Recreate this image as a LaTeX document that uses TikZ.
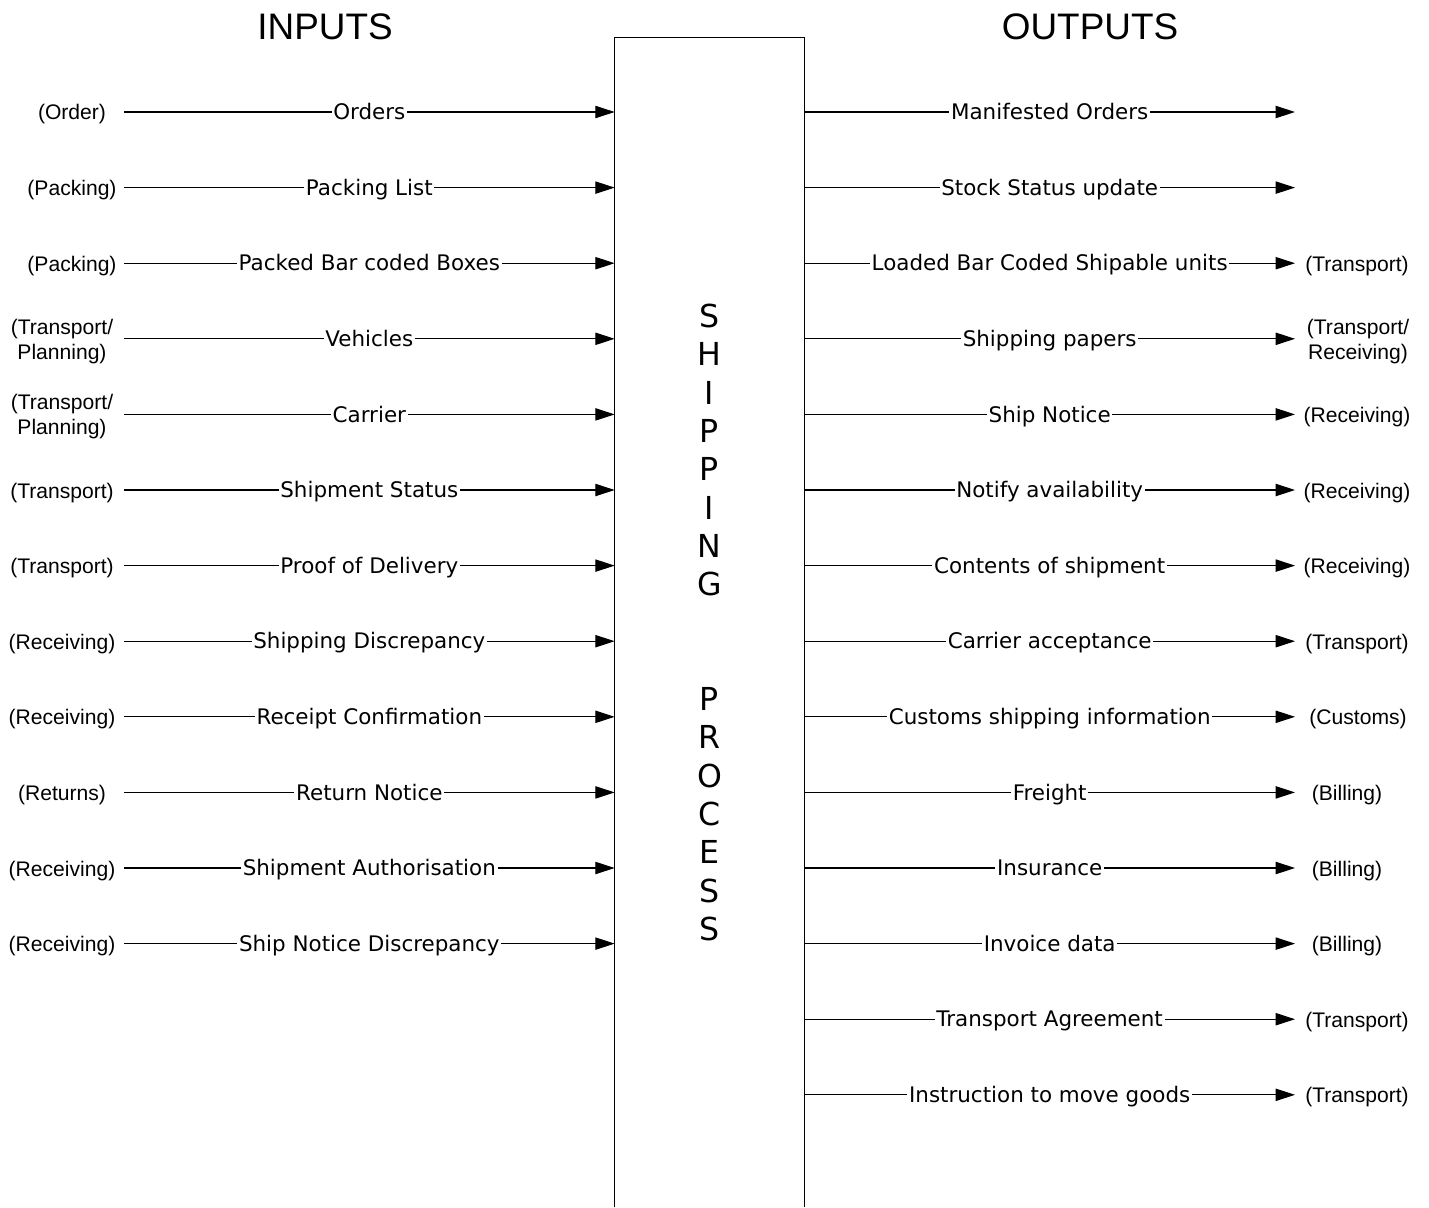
\documentclass[tikz,border=0pt]{standalone}
\usepackage{fontspec}
\setmainfont{Liberation Sans}
\newfontfamily\verd{DejaVu Sans}
\usetikzlibrary{arrows.meta}
\newcommand{\fsl}{/}
\newcommand{\two}[2]{\strut#1\\\strut#2}

\tikzset{
  flow/.style={line width=0.6pt, -{Triangle[length=11pt,width=7pt]}},
  lbl/.style={fill=white, inner sep=1pt, text height=10pt, text depth=1.2pt,
    font=\verd\fontsize{12.2}{14}\selectfont},
  src/.style={align=center, inner sep=0pt, yshift=-3*0.02cm, font=\fontsize{12}{14.2}\selectfont},
  ttl/.style={font=\fontsize{21}{24}\selectfont},
}

\begin{document}
\begin{tikzpicture}[x=0.02cm, y=-0.02cm]
  \useasboundingbox (0,0) rectangle (1429,1207);

  %titles
  \node[ttl] (tin) at (325,27) {INPUTS};
  \node[ttl] (tout) at (1090,27) {OUTPUTS};

  %process box, open at the bottom
  \node[minimum width=3.78cm, minimum height=23.38cm, inner sep=0pt] (box) at (709.5,622.5) {};
  \draw[line width=0.8pt] (box.south west) -- (box.north west) -- (box.north east) -- (box.south east);
  \node[align=center, font=\verd\fontsize{18}{21.8}\selectfont] (word) at (box.center)
    {S\\H\\I\\P\\P\\I\\N\\G\\[43.6pt]P\\R\\O\\C\\E\\S\\S};

  %inputs
  \foreach \i/\x/\s/\t in {
    1/72/(Order)/Orders,
    2/72/(Packing)/Packing List,
    3/72/(Packing)/Packed Bar coded Boxes,
    4/62/\two{(Transport\fsl}{Planning)}/Vehicles,
    5/62/\two{(Transport\fsl}{Planning)}/Carrier,
    6/62/(Transport)/Shipment Status,
    7/62/(Transport)/Proof of Delivery,
    8/62/(Receiving)/Shipping Discrepancy,
    9/62/(Receiving)/Receipt Confirmation,
    10/62/(Returns)/Return Notice,
    11/62/(Receiving)/Shipment Authorisation,
    12/62/(Receiving)/Ship Notice Discrepancy} {
    \pgfmathsetmacro\y{112+75.6*(\i-1)}
    \node[src] (src\i) at (\x,\y) {\strut\s};
    \coordinate (in\i) at (124,\y);
    \draw[flow] (in\i) -- node[lbl] (inl\i) {\t} (box.west |- in\i);
  }

  %outputs
  \foreach \i/\x/\d/\t in {
    1/1357//Manifested Orders,
    2/1357//Stock Status update,
    3/1357/(Transport)/Loaded Bar Coded Shipable units,
    4/1358/\two{(Transport\fsl}{Receiving)}/Shipping papers,
    5/1357/(Receiving)/Ship Notice,
    6/1357/(Receiving)/Notify availability,
    7/1357/(Receiving)/Contents of shipment,
    8/1357/(Transport)/Carrier acceptance,
    9/1358/(Customs)/Customs shipping information,
    10/1347/(Billing)/Freight,
    11/1347/(Billing)/Insurance,
    12/1347/(Billing)/Invoice data,
    13/1357/(Transport)/Transport Agreement,
    14/1357/(Transport)/Instruction to move goods} {
    \pgfmathsetmacro\y{112+75.6*(\i-1)}
    \coordinate (out\i) at (1295,\y);
    \draw[flow] (box.east |- out\i) -- node[lbl] (outl\i) {\t} (out\i);
    \node[src] (dst\i) at (\x,\y) {\strut\d};
  }
\end{tikzpicture}
\end{document}
